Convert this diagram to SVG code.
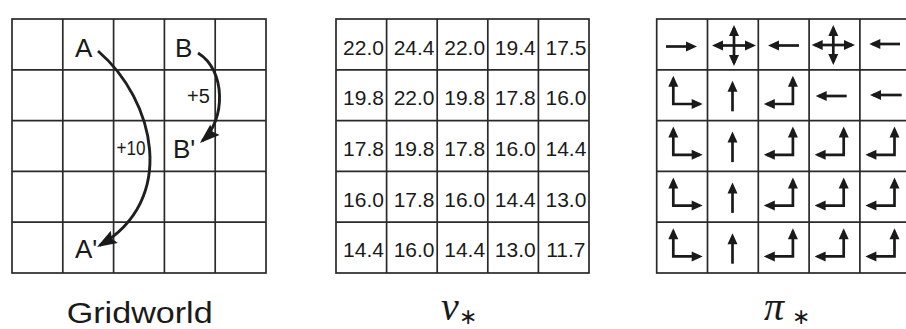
<svg xmlns="http://www.w3.org/2000/svg" width="906" height="329" viewBox="0 0 906 329">
<style>
.grid{fill:none;stroke:#2a2a2a;stroke-width:1.7}
.lbl{font-family:"Liberation Sans",Arial,sans-serif;fill:#1a1a1a}
.big{font-size:26px}
.rew{font-size:20px}
.num{font-family:"Liberation Sans",Arial,sans-serif;font-size:21px;fill:#1a1a1a;text-anchor:middle}
.pa{fill:none;stroke:#1a1a1a;stroke-width:2.7;marker-end:url(#ah)}
.pl{fill:none;stroke:#1a1a1a;stroke-width:2.7;marker-start:url(#ah);marker-end:url(#ah)}
.arc{fill:none;stroke:#1f1f1f;stroke-width:2.9;marker-end:url(#bh)}
.math{font-family:"Liberation Serif","Times New Roman",serif;font-style:italic;fill:#1a1a1a}
.ast{font-family:"DejaVu Sans",sans-serif;fill:#1a1a1a;font-size:22px}
</style>
<defs>
<marker id="ah" markerUnits="userSpaceOnUse" markerWidth="11" markerHeight="10" refX="8" refY="5" orient="auto-start-reverse" overflow="visible"><path d="M0,0 L11,5 L0,10 z" fill="#1a1a1a"/></marker>
<marker id="bh" markerUnits="userSpaceOnUse" markerWidth="20" markerHeight="14" refX="17" refY="7" orient="auto" overflow="visible"><path d="M0,0 L20,7 L0,14 L3,7 z" fill="#1a1a1a"/></marker>
</defs>

<g id="gridworld">
<rect class="grid" x="12" y="19" width="254" height="254"/>
<path class="grid" d="M62.8 19V273M113.6 19V273M164.4 19V273M215.2 19V273M12 69.8H266M12 120.6H266M12 171.4H266M12 222.2H266"/>
<g id="A"><text class="lbl big" x="75" y="57">A</text></g>
<g id="B"><text class="lbl big" x="175" y="57">B</text></g>
<g id="Bp"><text class="lbl big" x="173" y="158">B'</text></g>
<g id="Ap"><text class="lbl big" x="75" y="258">A'</text></g>
</g>

<g id="connectors">
<path class="arc" d="M98 51 C155 100 178 200 99.6 245.4"/>
<path class="arc" d="M198 53 C226 70 226 120 202.2 141"/>
<text class="lbl rew" x="116.5" y="155" textLength="29" lengthAdjust="spacingAndGlyphs">+10</text>
<text class="lbl rew" x="187" y="102.5">+5</text>
</g>

<g id="values">
<rect class="grid" x="336" y="19" width="253" height="254"/>
<path class="grid" d="M386.6 19V273M437.2 19V273M487.8 19V273M538.4 19V273M336 69.8H589M336 120.6H589M336 171.4H589M336 222.2H589"/>
<text class="num" y="54.5"><tspan x="363.5">22.0</tspan><tspan x="414.1">24.4</tspan><tspan x="464.7">22.0</tspan><tspan x="515.3">19.4</tspan><tspan x="565.9">17.5</tspan></text>
<text class="num" y="105.3"><tspan x="363.5">19.8</tspan><tspan x="414.1">22.0</tspan><tspan x="464.7">19.8</tspan><tspan x="515.3">17.8</tspan><tspan x="565.9">16.0</tspan></text>
<text class="num" y="156.1"><tspan x="363.5">17.8</tspan><tspan x="414.1">19.8</tspan><tspan x="464.7">17.8</tspan><tspan x="515.3">16.0</tspan><tspan x="565.9">14.4</tspan></text>
<text class="num" y="206.9"><tspan x="363.5">16.0</tspan><tspan x="414.1">17.8</tspan><tspan x="464.7">16.0</tspan><tspan x="515.3">14.4</tspan><tspan x="565.9">13.0</tspan></text>
<text class="num" y="256.7"><tspan x="363.5">14.4</tspan><tspan x="414.1">16.0</tspan><tspan x="464.7">14.4</tspan><tspan x="515.3">13.0</tspan><tspan x="565.9">11.7</tspan></text>
</g>

<g id="policy">
<rect class="grid" x="656.7" y="19" width="254" height="254"/>
<path class="grid" d="M707.5 19V273M758.3 19V273M809.1 19V273M859.9 19V273M656.7 69.8H911M656.7 120.6H911M656.7 171.4H911M656.7 222.2H911"/>
<path class="pa" d="M666 46.5H694"/>
<path class="pa" d="M734 45.5H753"/>
<path class="pa" d="M734 45.5H715"/>
<path class="pa" d="M734 45.5V28"/>
<path class="pa" d="M734 45.5V63"/>
<path class="pa" d="M799 45.5H771"/>
<path class="pa" d="M833.3 45H852"/>
<path class="pa" d="M833.3 45H814.7"/>
<path class="pa" d="M833.3 45V28"/>
<path class="pa" d="M833.3 45V62"/>
<path class="pa" d="M900 44H872.3"/>

<path class="pl" d="M673.3 78.8V104H699.7"/>
<path class="pa" d="M732.5 111.3V83.8"/>
<path class="pl" d="M792.9 78.8V104H766.8"/>
<path class="pa" d="M846.7 96H818.7"/>
<path class="pa" d="M901.7 95H873"/>

<path class="pl" d="M673.3 129.6V154.8H699.7"/>
<path class="pa" d="M732.5 162.1V134.6"/>
<path class="pl" d="M792.9 129.6V154.8H766.8"/>
<path class="pl" d="M843.7 129.6V154.8H817.6"/>
<path class="pl" d="M894.5 129.6V154.8H868.4"/>

<path class="pl" d="M673.3 180.4V205.6H699.7"/>
<path class="pa" d="M732.5 212.9V185.4"/>
<path class="pl" d="M792.9 180.4V205.6H766.8"/>
<path class="pl" d="M843.7 180.4V205.6H817.6"/>
<path class="pl" d="M894.5 180.4V205.6H868.4"/>

<path class="pl" d="M673.3 231.2V256.4H699.7"/>
<path class="pa" d="M732.5 263.7V236.2"/>
<path class="pl" d="M792.9 231.2V256.4H766.8"/>
<path class="pl" d="M843.7 231.2V256.4H817.6"/>
<path class="pl" d="M894.5 231.2V256.4H868.4"/>
</g>

<g id="labels">
<text class="lbl" x="66.7" y="322.5" font-size="30" textLength="146" lengthAdjust="spacingAndGlyphs">Gridworld</text>
<text class="math" x="441" y="320" font-size="40">v</text>
<text class="ast" x="459" y="323.5">∗</text>
<text class="math" x="764" y="320" font-size="40">π</text>
<text class="ast" x="792" y="323.5">∗</text>
</g>
</svg>
